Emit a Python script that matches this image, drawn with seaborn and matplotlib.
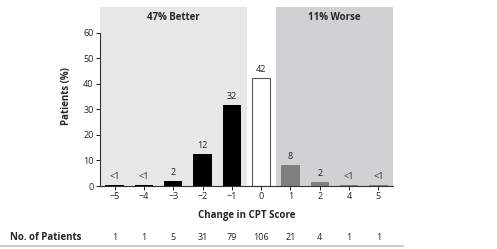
import matplotlib
matplotlib.use("Agg")
import matplotlib.pyplot as plt
import matplotlib.transforms as mtransforms
import seaborn as sns

# data
scores = ["\u22125", "\u22124", "\u22123", "\u22122", "\u22121", "0", "1", "2", "4", "5"]
percent = [0.4, 0.4, 2.0, 12.4, 31.6, 42.4, 8.4, 1.6, 0.4, 0.4]
bar_labels = ["<1", "<1", "2", "12", "32", "42", "8", "2", "<1", "<1"]
n_patients = [1, 1, 5, 31, 79, 106, 21, 4, 1, 1]
bar_colors = ["black"] * 5 + ["white"] + ["#7f7f7f"] * 4

sns.set_style("ticks")
plt.rcParams['font.family'] = ['Open Sans', 'DejaVu Sans']

fig = plt.figure(figsize=(4.97, 2.49), dpi=100)
ax = fig.add_axes([0.201, 0.253, 0.59, 0.719])

ax.axvspan(-0.5, 4.5, color="#e7e7e7", zorder=0, lw=0)
ax.axvspan(5.5, 9.5, color="#d0d1d3", zorder=0, lw=0)

sns.barplot(x=scores, y=percent, hue=scores, palette=bar_colors, legend=False,
            width=0.63, ax=ax, zorder=2, saturation=1)
for p in ax.patches:
    p.set_edgecolor("#555555" if p.get_facecolor()[0] == 1 else "none")
    p.set_linewidth(0.8)

for i, (v, lab) in enumerate(zip(percent, bar_labels)):
    ax.text(i, v + 1.5, lab, ha="center", va="bottom", fontsize=6.5, color="#222222")

ax.set_xlim(-0.5, 9.5)
ax.set_ylim(0, 70)
ax.set_yticks(range(0, 61, 10))
ax.spines["left"].set_bounds(0, 60)
ax.spines["top"].set_visible(False)
ax.spines["right"].set_visible(False)
ax.tick_params(labelsize=6.5, length=3, width=0.7, colors="#222222", pad=1.5)
for s in ("left", "bottom"):
    ax.spines[s].set_linewidth(0.8)
    ax.spines[s].set_color("#333333")

ax.set_ylabel("Patients (%)", fontsize=7, fontweight="bold", labelpad=8)
ax.set_xlabel("Change in CPT Score", fontsize=7, fontweight="bold", labelpad=6)

ax.text(2, 68, "47% Better", ha="center", va="top", fontsize=7, fontweight="bold")
ax.text(7.5, 68, "11% Worse", ha="center", va="top", fontsize=7, fontweight="bold")

trans = mtransforms.blended_transform_factory(ax.transData, ax.transAxes)
for i, n in enumerate(n_patients):
    ax.text(i, -0.285, str(n), transform=trans, ha="center", va="center",
            fontsize=6.5, color="#222222")
fig.text(0.02, 1 - 237 / 249, "No. of Patients", ha="left", va="center",
         fontsize=7, fontweight="bold")
fig.add_artist(plt.Line2D([0, 0.81], [0.012, 0.012], color="#cccccc", lw=1.5))

fig.savefig("out.png", dpi=100)
